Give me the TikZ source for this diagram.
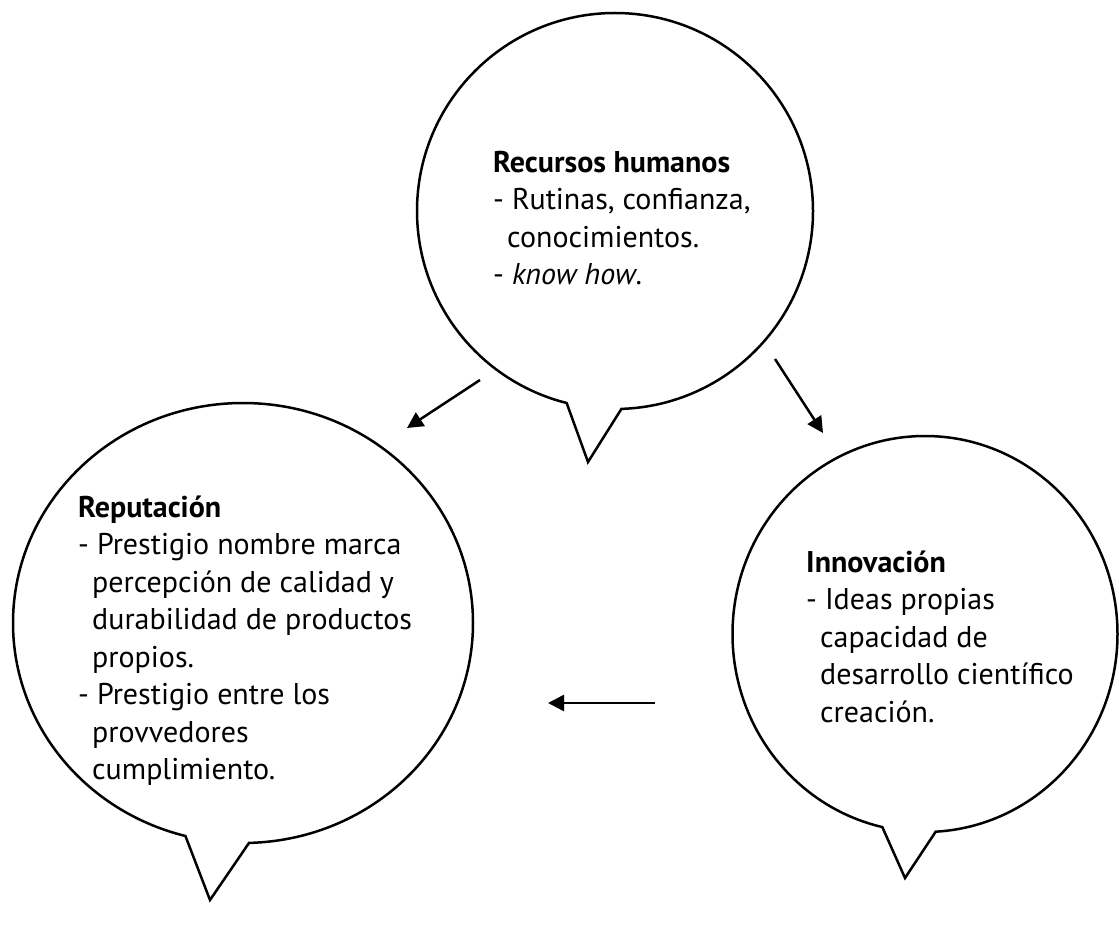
\documentclass[tikz,border=0pt]{standalone}
\usepackage{fontspec}
\setmainfont{PT Sans}
\usetikzlibrary{shapes.callouts,arrows.meta}
\newcommand{\sangria}{\hspace*{14pt}}
\begin{document}
\begin{tikzpicture}[
  x=1pt, y=-1pt,
  bubble/.style={ellipse callout, draw, line width=2.5pt, callout pointer arc=16, inner sep=0pt},
  bubbletext/.style={anchor=north west, align=left, inner sep=0pt, font=\fontsize{30}{37.5}\selectfont},
  flow/.style={line width=2.5pt, -{Triangle[length=16pt,width=16pt]}}
]
  % Page frame
  \useasboundingbox (0,0) rectangle (1119,925);

  % Speech bubbles
  \node[bubble, minimum width=396pt, minimum height=396pt, callout absolute pointer={(588,462)}] (rrhh) at (615,211) {};
  \node[bubble, minimum width=460pt, minimum height=440pt, callout absolute pointer={(210,900)}] (reput) at (243,623) {};
  \node[bubble, minimum width=385pt, minimum height=396pt, callout absolute pointer={(905,878)}] (innov) at (925,634) {};

  % Texts inside the bubbles
  \node[bubbletext] (rrhh text) at (493,145.75) {\strut\textbf{Recursos humanos}\\- Rutinas, confianza,\\\sangria conocimientos.\\- \textit{know how}.};
  \node[bubbletext] (reput text) at (78,490.75) {\strut\textbf{Reputación}\\- Prestigio nombre marca\\\sangria percepción de calidad y\\\sangria durabilidad de productos\\\sangria propios.\\- Prestigio entre los\\\sangria provvedores\\\sangria cumplimiento.};
  \node[bubbletext] (innov text) at (806,545.75) {\strut\textbf{Innovación}\\- Ideas propias\\\sangria capacidad de\\\sangria desarrollo científico\\\sangria creación.};

  % Arrow ends
  \coordinate (rrhh left) at (480,380);
  \coordinate (reput in) at (407,428);
  \coordinate (rrhh right) at (775,359);
  \coordinate (innov in) at (823,433);
  \coordinate (innov left) at (655,703);
  \coordinate (reput right) at (548,703);

  % Arrows between the bubbles
  \draw[flow] (rrhh left) -- (reput in);
  \draw[flow] (rrhh right) -- (innov in);
  \draw[flow] (innov left) -- (reput right);
\end{tikzpicture}
\end{document}
